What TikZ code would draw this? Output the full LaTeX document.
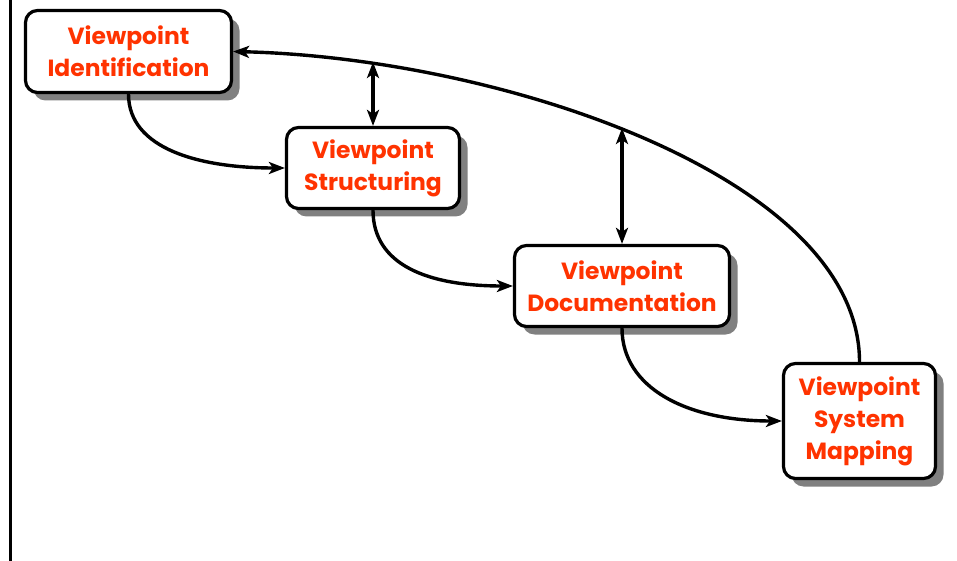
\documentclass[tikz,border=0pt]{standalone}
\usepackage{fontspec}
\setmainfont{Poppins}
\usetikzlibrary{arrows.meta,shadows}
\definecolor{vptext}{HTML}{FF3300}
\tikzset{
  phase/.style={draw=black,line width=3.2bp,fill=white,rounded corners=12bp,
    align=center,text=vptext,font=\fontsize{23.5}{32}\selectfont\bfseries,
    drop shadow={shadow xshift=8bp,shadow yshift=-8bp,fill=black!50,opacity=1}},
  tip/.style={Stealth[length=16bp,width=12bp,inset=4bp]},
  flow/.style={line width=3.4bp,-{Stealth[length=16bp,width=12bp,inset=4bp]}},
  link/.style={line width=3.4bp,{Stealth[length=16bp,width=12bp,inset=4bp]}-{Stealth[length=16bp,width=12bp,inset=4bp]}}
}
\begin{document}
\begin{tikzpicture}[x=1bp,y=-1bp]
  \useasboundingbox (0,0) rectangle (957,561);
  % frame edge on the left
  \draw[line width=3bp] (10,0) -- (10,561);
  % Phases
  \node[phase,minimum width=206bp,minimum height=82bp] (ident) at (128.5,51.5) {Viewpoint\\Identification};
  \node[phase,minimum width=173bp,minimum height=81bp] (struct) at (373,168) {Viewpoint\\Structuring};
  \node[phase,minimum width=215bp,minimum height=81bp] (doc) at (622,286) {Viewpoint\\Documentation};
  \node[phase,minimum width=152bp,minimum height=115bp] (sysmap) at (859.5,421) {Viewpoint\\System\\Mapping};
  % Edge: ident -> struct
  \draw[flow] (ident.south) .. controls +(0,55) and +(-85,0) .. (struct.west);
  % Edge: struct -> doc
  \draw[flow] (struct.south) .. controls +(0,55) and +(-85,0) .. (doc.west);
  % Edge: doc -> sysmap
  \draw[flow] (doc.south) .. controls +(0,60) and +(-95,0) .. (sysmap.west);
  % Edge: sysmap -> ident (feedback)
  \draw[flow] (sysmap.north) .. controls +(0,-185) and (500,58) .. (ident.east);
  % Links from the feedback arc
  \coordinate (arcA) at (373,62);
  \coordinate (arcB) at (622,128);
  \draw[link] (arcA) -- (struct.north);
  \draw[link] (arcB) -- (doc.north);
\end{tikzpicture}
\end{document}
